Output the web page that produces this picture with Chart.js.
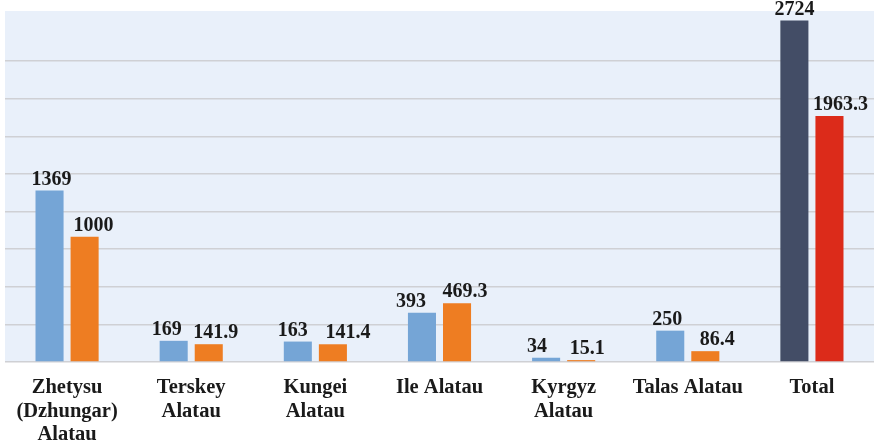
<!DOCTYPE html>
<html lang="en">
<head>
  <meta charset="UTF-8" />
  <title>Alatau ranges</title>
  <script src="https://cdn.jsdelivr.net/npm/chart.js"></script>
  <style>
    html, body { margin: 0; padding: 0; background: #fff; }
    #wrap { width: 874px; height: 445px; }
  </style>
</head>
<body>
  <div id="wrap"><canvas id="chart" width="874" height="445"></canvas></div>

  <script>
    const categories = [
      ['Zhetysu', '(Dzhungar)', 'Alatau'],
      ['Terskey', 'Alatau'],
      ['Kungei', 'Alatau'],
      'Ile Alatau',
      ['Kyrgyz', 'Alatau'],
      'Talas Alatau',
      'Total'
    ];
    const seriesA = [1369, 169, 163, 393, 34, 250, 2724];
    const seriesB = [1000, 141.9, 141.4, 469.3, 15.1, 86.4, 1963.3];
    const yTickStep = 300;
    const yMax = 2800;

    // horizontal nudge of the value labels (px), as placed in the original
    const labelShiftA = [2, -7, -5, -11, -9, -3, 0];
    const labelShiftB = [9, 7, 15, 8, 6, 12, 11];

    const colorsA = categories.map((c, i) => i === categories.length - 1 ? '#434d66' : '#75a5d6');
    const colorsB = categories.map((c, i) => i === categories.length - 1 ? '#dc2b1a' : '#ee7d22');

    // pale plot background
    const plotBg = {
      id: 'plotBg',
      beforeDraw(chart) {
        const { ctx, chartArea: a } = chart;
        ctx.save();
        ctx.fillStyle = '#e9f0fa';
        ctx.fillRect(a.left, a.top, a.right - a.left, a.bottom - a.top);
        ctx.restore();
      }
    };

    // value labels over bars
    const valueLabels = {
      id: 'valueLabels',
      afterDatasetsDraw(chart) {
        const { ctx } = chart;
        ctx.save();
        ctx.font = 'bold 20px "Liberation Serif", "Times New Roman", serif';
        ctx.fillStyle = '#1a1a1a';
        ctx.textAlign = 'center';
        ctx.textBaseline = 'bottom';
        chart.data.datasets.forEach((ds, di) => {
          const shift = di === 0 ? labelShiftA : labelShiftB;
          chart.getDatasetMeta(di).data.forEach((bar, i) => {
            ctx.fillText(String(ds.data[i]), bar.x + shift[i], bar.y - 1);
          });
        });
        ctx.restore();
      }
    };

    new Chart(document.getElementById('chart').getContext('2d'), {
      type: 'bar',
      data: {
        labels: categories,
        datasets: [
          { label: 'A', data: seriesA, backgroundColor: colorsA, categoryPercentage: 0.565, barPercentage: 0.8 },
          { label: 'B', data: seriesB, backgroundColor: colorsB, categoryPercentage: 0.565, barPercentage: 0.8 }
        ]
      },
      options: {
        responsive: false,
        animation: false,
        layout: { padding: { left: 5, top: 11, right: 0, bottom: 0 } },
        plugins: { legend: { display: false }, tooltip: { enabled: false } },
        scales: {
          x: {
            grid: { display: false, drawTicks: false },
            border: { display: false },
            afterFit(scale) { scale.height = 83; },
            ticks: {
              color: '#1a1a1a',
              padding: 14,
              maxRotation: 0,
              autoSkip: false,
              font: { family: '"Liberation Serif", "Times New Roman", serif', size: 20.5, weight: 'bold', lineHeight: 1.15 }
            }
          },
          y: {
            min: 0,
            max: yMax,
            afterBuildTicks(scale) {
              scale.ticks = scale.ticks.filter(t => t.value % yTickStep === 0);
            },
            ticks: { display: false, stepSize: yTickStep },
            grid: { color: '#cfd0d4', lineWidth: 1.5, drawTicks: false },
            border: { display: false }
          }
        }
      },
      plugins: [plotBg, valueLabels]
    });
  </script>
</body>
</html>
